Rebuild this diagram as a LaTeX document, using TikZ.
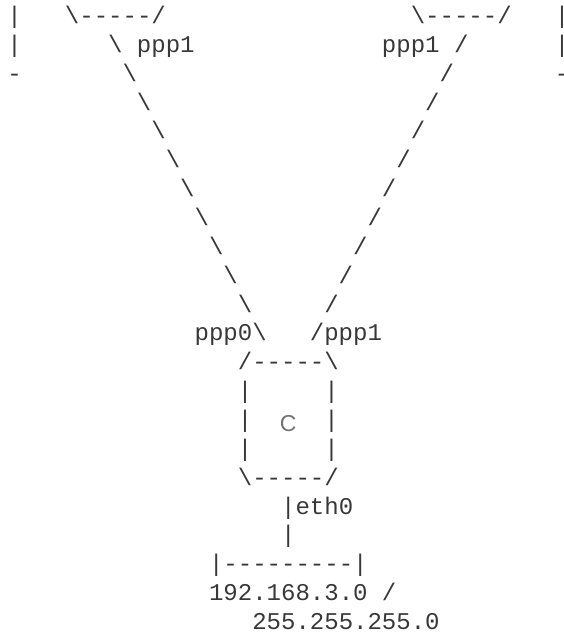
\documentclass[tikz,border=0pt]{standalone}
\usepackage{fontspec}
\setmonofont{Liberation Mono}
\setsansfont{Liberation Sans}
\tikzset{
  asc/.style={anchor=base west, inner sep=0pt, text=black!78,
    font=\ttfamily\fontsize{24.02}{28.86}\selectfont},
  boxlabel/.style={anchor=base, inner sep=0pt, text=black!55,
    font=\sffamily\fontsize{23}{28}\selectfont}
}
\newcommand{\bs}{\textbackslash}

\begin{document}
\begin{tikzpicture}[x=14.41pt, y=-28.86pt]
        \useasboundingbox (-0.4927,-0.8143) rectangle (38.577,21.188);
        \node[asc] at (0,0) (lbar1) {|};
        \node[asc] at (4,0) (lboxbot) {\bs-----/};
        \node[asc] at (28,0) (rboxbot) {\bs-----/};
        \node[asc] at (38,0) (rbar1) {|};
        \node[asc] at (0,1) (lbar2) {|};
        \node[asc] at (7,1) (l1) {\bs};
        \node[asc] at (9,1) (lppp) {ppp1};
        \node[asc] at (26,1) (rppp) {ppp1};
        \node[asc] at (31,1) (r1) {/};
        \node[asc] at (38,1) (rbar2) {|};
        \node[asc] at (0,2) (ldash) {-};
        \node[asc] at (8,2) (l2) {\bs};
        \node[asc] at (30,2) (r2) {/};
        \node[asc] at (38,2) (rdash) {-};
        \node[asc] at (9,3) (l3) {\bs};
        \node[asc] at (29,3) (r3) {/};
        \node[asc] at (10,4) (l4) {\bs};
        \node[asc] at (28,4) (r4) {/};
        \node[asc] at (11,5) (l5) {\bs};
        \node[asc] at (27,5) (r5) {/};
        \node[asc] at (12,6) (l6) {\bs};
        \node[asc] at (26,6) (r6) {/};
        \node[asc] at (13,7) (l7) {\bs};
        \node[asc] at (25,7) (r7) {/};
        \node[asc] at (14,8) (l8) {\bs};
        \node[asc] at (24,8) (r8) {/};
        \node[asc] at (15,9) (l9) {\bs};
        \node[asc] at (23,9) (r9) {/};
        \node[asc] at (16,10) (l10) {\bs};
        \node[asc] at (22,10) (r10) {/};
        \node[asc] at (13,11) (ppp0) {ppp0\bs};
        \node[asc] at (21,11) (ppp1) {/ppp1};
        \node[asc] at (16,12) (ctop) {/-----\bs};
        \node[asc] at (16,13) (cl1) {|};
        \node[asc] at (22,13) (cr1) {|};
        \node[asc] at (16,14) (cl2) {|};
        \node[boxlabel] at (19.5,14.12) (c) {C};
        \node[asc] at (22,14) (cr2) {|};
        \node[asc] at (16,15) (cl3) {|};
        \node[asc] at (22,15) (cr3) {|};
        \node[asc] at (16,16) (cbot) {\bs-----/};
        \node[asc] at (19,17) (eth0) {|eth0};
        \node[asc] at (19,18) (wire) {|};
        \node[asc] at (14,19) (lan) {|---------|};
        \node[asc] at (14,20) (net) {192.168.3.0};
        \node[asc] at (26,20) (slash) {/};
        \node[asc] at (17,21) (mask) {255.255.255.0};
    \end{tikzpicture}
\end{document}
